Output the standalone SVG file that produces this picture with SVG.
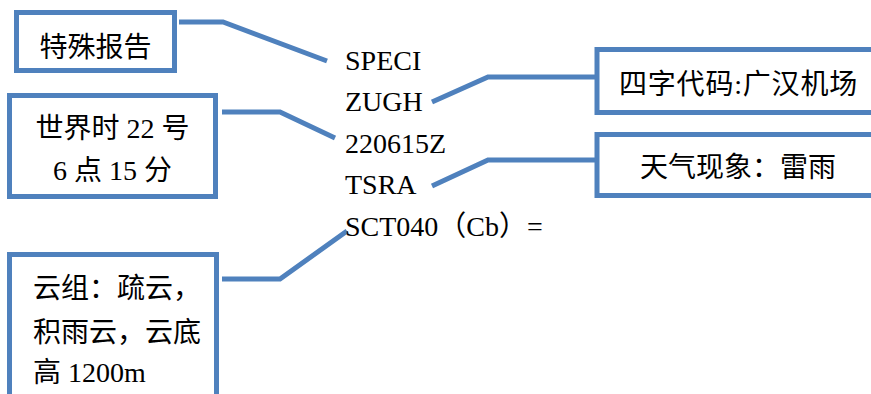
<svg xmlns="http://www.w3.org/2000/svg" width="871" height="394" viewBox="0 0 871 394">
<style>
.box{fill:#fff;stroke:#4F81BD;stroke-width:5}
.conn{fill:none;stroke:#4F81BD;stroke-width:5;stroke-linejoin:miter}
text{font-family:"Liberation Serif","Noto Sans CJK SC",serif;font-size:28px;fill:#000}
.c{text-anchor:middle}
</style>
<rect width="871" height="394" fill="#fff"/>
<g id="connectors">
<polyline class="conn" points="179,22 223,22 327,61"/>
<polyline class="conn" points="222,112 280,112 335,138"/>
<polyline class="conn" points="432,102 488,77 597,77"/>
<polyline class="conn" points="432,186 488,160 597,160"/>
<polyline class="conn" points="222,279 280,279 347,231"/>
</g>
<g id="node-special">
<rect class="box" x="16.5" y="12.5" width="158" height="58"/>
<text class="c" x="95.5" y="57">特殊报告</text>
</g>
<g id="node-time">
<rect class="box" x="9.5" y="95.5" width="206" height="101"/>
<text class="c" x="112.5" y="138">世界时 22 号</text>
<text class="c" x="112.5" y="180">6 点 15 分</text>
</g>
<g id="node-code">
<rect class="box" x="597" y="49.5" width="300" height="63"/>
<text x="619" y="94" letter-spacing="0.8">四字代码:广汉机场</text>
</g>
<g id="node-weather">
<rect class="box" x="597" y="134.5" width="300" height="61"/>
<text x="640" y="176.5">天气现象：雷雨</text>
</g>
<g id="node-cloud">
<rect class="box" x="9.5" y="254.5" width="207" height="200"/>
<text x="33" y="298">云组：疏云，</text>
<text x="33" y="341.5">积雨云，云底</text>
<text x="33" y="382">高 1200m</text>
</g>
<g id="metar">
<text x="345" y="70">SPECI</text>
<text x="345" y="111">ZUGH</text>
<text x="345" y="153">220615Z</text>
<text x="345" y="194">TSRA</text>
<text x="345" y="236">SCT040（Cb）=</text>
</g>
</svg>
